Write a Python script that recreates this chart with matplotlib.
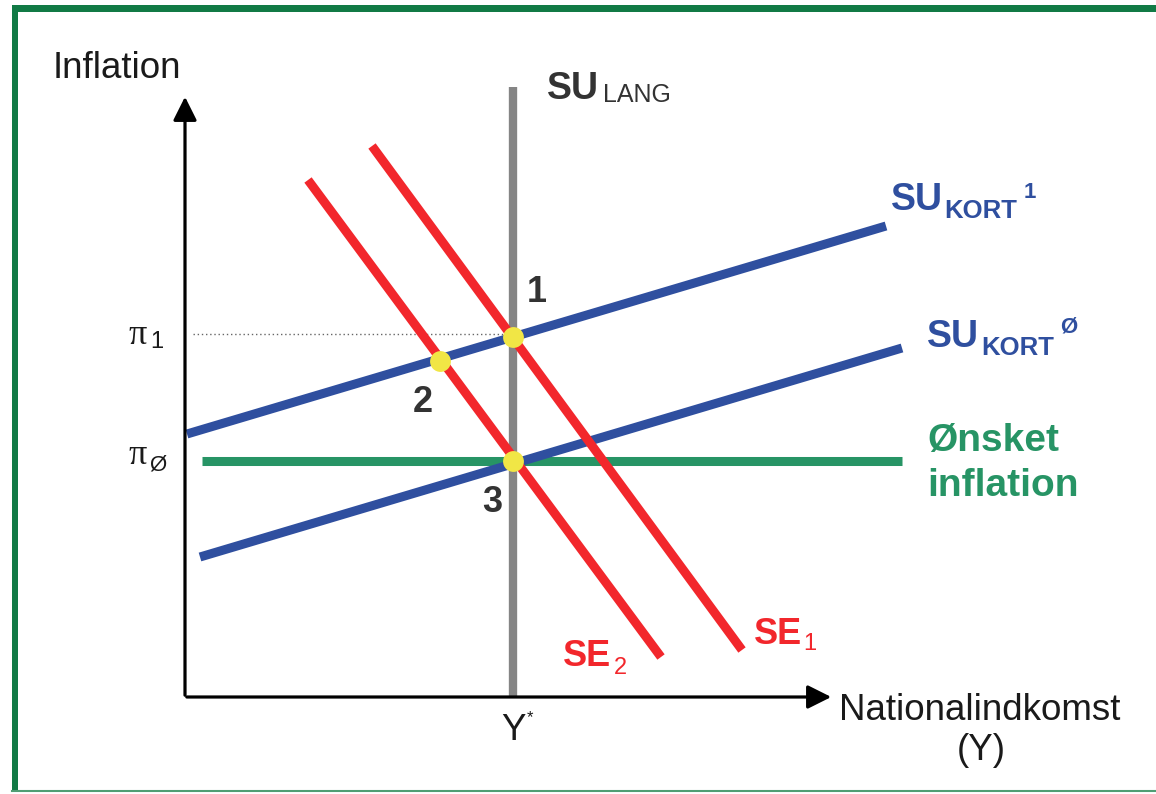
import matplotlib.pyplot as plt

plt.rcParams['font.family'] = ['Liberation Sans', 'DejaVu Sans']

# Kurver (endepunkter i diagrammets koordinater, y nedad)
su_lang_x = [513, 513]
su_lang_y = [87, 697]
su_kort1_x = [187, 886]
su_kort1_y = [434, 226]
su_kort0_x = [200, 902]
su_kort0_y = [557, 348]
onsket_x = [202, 902]
onsket_y = [461, 461]
se1_x = [372, 742]
se1_y = [146, 650]
se2_x = [308, 661]
se2_y = [180, 657]
pi1_line_x = [193, 505]
pi1_line_y = [334, 334]

# Ligevaegtspunkter 1, 2, 3
punkt_x = [513, 440, 513]
punkt_y = [337, 361, 461]
punkt_navne = ['1', '2', '3']

red = '#f2272c'
blue = '#2f4f9f'
green = '#279465'
gray = '#858585'
dark = '#333333'

fig = plt.figure(figsize=(11.56, 7.94), dpi=100)
ax = fig.add_axes([0, 0, 1, 1])
ax.set_xlim(0, 1156)
ax.set_ylim(794, 0)
ax.axis('off')

# groen ramme
ax.fill_between([12, 1156], 5, 12, color='#117a45', lw=0)
ax.fill_between([12, 18], 5, 792, color='#117a45', lw=0)
ax.plot([12, 1156], [791, 791], color='#4f9e74', lw=1.5)

# akser
ax.annotate('', xy=(185, 94), xytext=(185, 698),
            arrowprops=dict(arrowstyle='-|>', lw=2.3, color='black', mutation_scale=36))
ax.annotate('', xy=(834, 697), xytext=(184, 697),
            arrowprops=dict(arrowstyle='-|>', lw=2.3, color='black', mutation_scale=36))

ax.plot(pi1_line_x, pi1_line_y, color='#666666', lw=1, ls=(0, (1, 2)))
ax.plot(su_lang_x, su_lang_y, color=gray, lw=6, solid_capstyle='butt')
ax.plot(onsket_x, onsket_y, color=green, lw=6.5, solid_capstyle='butt')
ax.plot(su_kort1_x, su_kort1_y, color=blue, lw=6.5, solid_capstyle='butt')
ax.plot(su_kort0_x, su_kort0_y, color=blue, lw=6.5, solid_capstyle='butt')
ax.plot(se1_x, se1_y, color=red, lw=6.5, solid_capstyle='butt')
ax.plot(se2_x, se2_y, color=red, lw=6.5, solid_capstyle='butt')
ax.plot(punkt_x, punkt_y, 'o', color='#f1e645', ms=15, mec='none', zorder=5)

# tal ved punkterne
for px, py, navn, dx, dy in zip(punkt_x, punkt_y, punkt_navne, [24, -17, -21], [-44, 42, 42]):
    ax.text(px + dx, py + dy, navn, fontsize=26, fontweight='bold', color=dark,
            ha='center', va='center')

# aksetekster
ax.text(53, 68, 'Inflation', fontsize=26.5, color='#1a1a1a', va='center', ha='left')
ax.text(839, 710, 'Nationalindkomst', fontsize=26.5, color='#1a1a1a', va='center', ha='left')
ax.text(981, 750, '(Y)', fontsize=26.5, color='#1a1a1a', va='center', ha='center')
ax.text(501, 731, 'Y', fontsize=26.5, color='#1a1a1a', va='center', ha='left')
ax.text(527, 718, '*', fontsize=12, color='#1a1a1a', va='center', ha='left')

# pi-etiketter
ax.text(128, 335, 'π', fontsize=26, family='Liberation Serif', color='#1a1a1a', va='center')
ax.text(150, 342, '1', fontsize=17, color='#1a1a1a', va='center')
ax.text(128, 455, 'π', fontsize=26, family='Liberation Serif', color='#1a1a1a', va='center')
ax.text(149, 465, 'Ø', fontsize=16, color='#1a1a1a', va='center')

# kurvenavne
ax.text(547, 89, 'SU', fontsize=27, fontweight='bold', color=dark, va='center')
ax.text(603, 95, 'LANG', fontsize=18, color=dark, va='center')

ax.text(891, 200, 'SU', fontsize=27, fontweight='bold', color=blue, va='center')
ax.text(944, 211, 'KORT', fontsize=18.5, fontweight='bold', color=blue, va='center')
ax.text(1024, 193, '1', fontsize=16, fontweight='bold', color=blue, va='center')

ax.text(927, 337, 'SU', fontsize=27, fontweight='bold', color=blue, va='center')
ax.text(981, 348, 'KORT', fontsize=18.5, fontweight='bold', color=blue, va='center')
ax.text(1060, 327, 'Ø', fontsize=16, fontweight='bold', color=blue, va='center')

ax.text(927, 441, 'Ønsket', fontsize=28, fontweight='bold', color=green, va='center')
ax.text(927, 486, 'inflation', fontsize=28, fontweight='bold', color=green, va='center')

ax.text(754, 634, 'SE', fontsize=26, fontweight='bold', color=red, va='center')
ax.text(803, 644, '1', fontsize=17, color=red, va='center')
ax.text(563, 657, 'SE', fontsize=26, fontweight='bold', color=red, va='center')
ax.text(614, 668, '2', fontsize=17, color=red, va='center')

fig.savefig('out.png', dpi=100)
